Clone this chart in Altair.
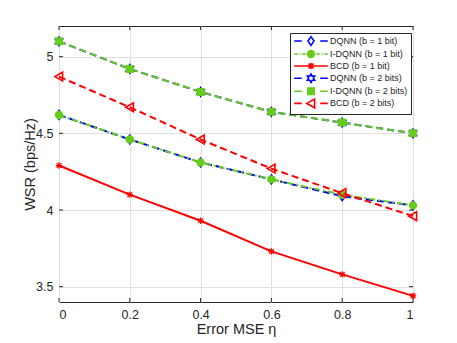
import math
import altair as alt
import pandas as pd

# ---------------- data ----------------
mse = [0, 0.2, 0.4, 0.6, 0.8, 1.0]
series_names = [
    "DQNN (b = 1 bit)",
    "I-DQNN (b = 1 bit)",
    "BCD (b = 1 bit)",
    "DQNN (b = 2 bits)",
    "I-DQNN (b = 2 bits)",
    "BCD (b = 2 bits)",
]
dqnn_b1 = [4.62, 4.46, 4.31, 4.20, 4.09, 4.03]
idqnn_b1 = [4.62, 4.46, 4.31, 4.20, 4.10, 4.03]
bcd_b1 = [4.29, 4.10, 3.93, 3.73, 3.58, 3.44]
dqnn_b2 = [5.10, 4.92, 4.77, 4.64, 4.57, 4.50]
idqnn_b2 = [5.10, 4.92, 4.77, 4.64, 4.57, 4.50]
bcd_b2 = [4.87, 4.67, 4.46, 4.27, 4.11, 3.96]
all_values = [dqnn_b1, idqnn_b1, bcd_b1, dqnn_b2, idqnn_b2, bcd_b2]
x_ticks = [0, 0.2, 0.4, 0.6, 0.8, 1]
y_ticks = [3.5, 4, 4.5, 5]

rows = []
for name, vals in zip(series_names, all_values):
    for xv, yv in zip(mse, vals):
        rows.append({"series": name, "x": xv, "y": yv})
df = pd.DataFrame(rows)
xt_df = pd.DataFrame({"x": x_ticks})
yt_df = pd.DataFrame({"y": y_ticks})

# ---------------- styles ----------------
W, H = 354, 276
BLUE = "#0000FF"
GREEN = "#66CC1A"
RED = "#FF0000"
DARK = "#262626"
FONT = "Liberation Sans"


def hexagram(r_out=1.05, r_in=0.6):
    pts = []
    for i in range(12):
        ang = math.radians(90 + 30 * i)
        r = r_out if i % 2 == 0 else r_in
        pts.append((r * math.cos(ang), -r * math.sin(ang)))
    return "M" + "L".join(f"{px:.3f},{py:.3f}" for px, py in pts) + "Z"


M_DIAMOND = "M-0.75,0L0,-1.1L0.75,0L0,1.1Z"
M_CIRCLE = "M0.85,0A0.85,0.85,0,1,1,-0.85,0A0.85,0.85,0,1,1,0.85,0Z"
M_AST = "M-0.8,0H0.8M0,-0.8V0.8M-0.6,-0.6L0.6,0.6M-0.6,0.6L0.6,-0.6"
M_HEX = hexagram()
M_SQUARE = "M-0.8,-0.8H0.8V0.8H-0.8Z"
M_TRI = "M-1.05,0L0.9,-1.1L0.9,1.1Z"

L_DASH = "M-4.2,0H-2.3M2.3,0H4.2"
L_DASHDOT = "M-4.2,0H-3.3M-2.9,0H-2.6M-2.2,0H-1.3M1.3,0H2.2M2.6,0H2.9M3.3,0H4.2"
L_SOLID = "M-4.2,0H4.2"

styles = [
    # color, dash, marker, filled, legend line, marker stroke
    (BLUE, [7, 4], M_DIAMOND, False, L_DASH, 1.6),
    (GREEN, [6, 3, 2, 3], M_CIRCLE, True, L_DASHDOT, 1.6),
    (RED, [], M_AST, False, L_SOLID, 1.2),
    (BLUE, [7, 4], M_HEX, False, L_DASH, 1.6),
    (GREEN, [7, 4], M_SQUARE, True, L_DASH, 1.6),
    (RED, [7, 4], M_TRI, False, L_DASH, 1.6),
]

x_scale = alt.Scale(domain=[0, 1], nice=False, zero=False)
y_scale = alt.Scale(domain=[3.4, 5.2], nice=False, zero=False)
x_enc = alt.X(
    "x:Q",
    scale=x_scale,
    axis=alt.Axis(values=x_ticks, title="Error MSE η", labelExpr="format(datum.value, '.1~f')"),
)
y_enc = alt.Y(
    "y:Q",
    scale=y_scale,
    axis=alt.Axis(values=y_ticks, title="WSR (bps/Hz)", labelExpr="format(datum.value, '.1~f')"),
)

layers = []

# inward ticks on all four sides
tick_kw = dict(color=DARK, strokeWidth=1)
layers.append(alt.Chart(xt_df).mark_rule(**tick_kw).encode(
    x=alt.X("x:Q", scale=x_scale), y=alt.value(H), y2=alt.value(H - 4)))
layers.append(alt.Chart(xt_df).mark_rule(**tick_kw).encode(
    x=alt.X("x:Q", scale=x_scale), y=alt.value(0), y2=alt.value(4)))
layers.append(alt.Chart(yt_df).mark_rule(**tick_kw).encode(
    y=alt.Y("y:Q", scale=y_scale), x=alt.value(0), x2=alt.value(4)))
layers.append(alt.Chart(yt_df).mark_rule(**tick_kw).encode(
    y=alt.Y("y:Q", scale=y_scale), x=alt.value(W), x2=alt.value(W - 4)))

base = alt.Chart(df)
for name, (col, dash, marker, filled, _, msw) in zip(series_names, styles):
    sub = base.transform_filter(alt.datum.series == name)
    line_kw = dict(color=col, strokeWidth=2)
    if dash:
        line_kw["strokeDash"] = dash
    layers.append(sub.mark_line(**line_kw).encode(x=x_enc, y=y_enc))
    layers.append(
        sub.mark_point(
            shape=marker,
            size=64,
            stroke=col,
            strokeWidth=msw,
            fill=col if filled else "transparent",
            filled=filled,
            opacity=1,
        ).encode(x="x:Q", y="y:Q")
    )

# legend-only layer (no data drawn)
legend_shapes = [s[4] + s[2] for s in styles]
legend_fills = [s[0] if s[3] else "transparent" for s in styles]
legend_strokes = [s[0] for s in styles]
legend_layer = base.transform_filter("datum.x > 100").mark_point(opacity=1, size=64).encode(
    x="x:Q",
    y="y:Q",
    shape=alt.Shape(
        "series:N",
        scale=alt.Scale(domain=series_names, range=legend_shapes),
        legend=alt.Legend(
            title=None,
            orient="none",
            legendX=231,
            legendY=7,
            padding=3,
            strokeColor=DARK,
            fillColor="white",
            cornerRadius=0,
            symbolSize=64,
            symbolStrokeWidth=1.6,
            symbolOffset=13,
            labelOffset=14,
            labelFont=FONT,
            labelFontSize=9,
            labelColor=DARK,
            rowPadding=-2.8,
            symbolOpacity=1,
        ),
    ),
    stroke=alt.Stroke("series:N", scale=alt.Scale(domain=series_names, range=legend_strokes)),
    fill=alt.Fill("series:N", scale=alt.Scale(domain=series_names, range=legend_fills)),
)
layers.append(legend_layer)

chart = (
    alt.layer(*layers)
    .properties(
        width=W,
        height=H,
        autosize=alt.AutoSizeParams(type="none"),
        padding={"left": 51, "top": 18, "right": 28, "bottom": 40},
    )
    .configure_view(stroke=DARK, strokeWidth=1)
    .configure_axis(
        grid=True,
        gridColor="#DFDFDF",
        gridWidth=1,
        domain=False,
        ticks=False,
        labelFont=FONT,
        labelFontSize=12.5,
        labelColor=DARK,
        labelPadding=6,
        titleFont=FONT,
        titleFontSize=14.5,
        titleFontWeight="normal",
        titleColor=DARK,
    )
    .configure_axisX(titlePadding=2)
    .configure_axisY(titlePadding=-2)
)

chart.save("out.html", embed_options={"renderer": "svg", "actions": False})
